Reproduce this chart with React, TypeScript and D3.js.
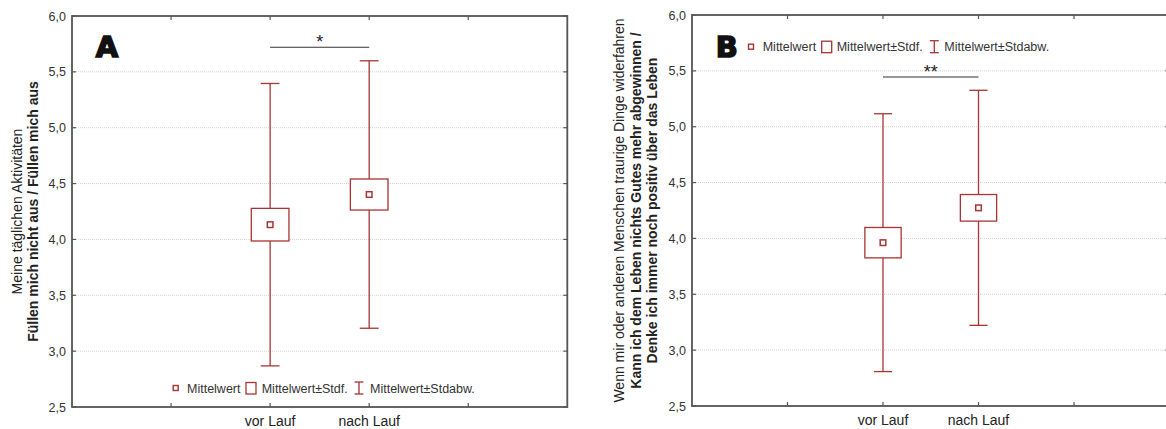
import React from "react";
import * as d3 from "d3";

const categories = ["vor Lauf", "nach Lauf"];
const categoryPos = [2, 3];
const xTickPos = [1, 2, 3, 4];
const yTicks = [2.5, 3.0, 3.5, 4.0, 4.5, 5.0, 5.5, 6.0];

// Panel A
const meanA = [4.132, 4.402];
const stdfA = [0.146, 0.139];
const stdabwA = [1.264, 1.197];
// Panel B
const meanB = [3.962, 4.274];
const stdfB = [0.136, 0.119];
const stdabwB = [1.154, 1.052];

const legendLabels = ["Mittelwert", "Mittelwert±Stdf.", "Mittelwert±Stdabw."];
const labelA = ["Meine täglichen Aktivitäten", "Füllen mich nicht aus / Füllen mich aus"];
const labelB = [
  "Wenn mir oder anderen Menschen traurige Dinge widerfahren",
  "Kann ich dem Leben nichts Gutes mehr abgewinnen /",
  "Denke ich immer noch positiv über das Leben",
];

const RED = "#a83434";
const FRAME = "#555";
const FONT = "'Liberation Sans', Arial, Helvetica, sans-serif";
const fmt = (v: number) => d3.format(".1f")(v).replace(".", ",");

type PanelProps = {
  left: number; right: number; top: number; bottom: number;
  mean: number[]; stdf: number[]; stdabw: number[];
  letter: string; letterX: number;
  yLabel: string[]; yLabelX: number[];
  sig: string; sigY: number;
  legendY: number; legendX: number[];
};

function Legend({ y, xs }: { y: number; xs: number[] }) {
  return (
    <g fontFamily={FONT} fontSize={12.5} fill="#333">
      <rect x={xs[0] - 2.5} y={y - 2.5} width={5} height={5} fill="white" stroke={RED} strokeWidth={1.4} />
      <text x={xs[1]} y={y + 4.5}>{legendLabels[0]}</text>
      <rect x={xs[2]} y={y - 5.5} width={10} height={11.5} fill="white" stroke={RED} strokeWidth={1.3} />
      <text x={xs[3]} y={y + 4.5}>{legendLabels[1]}</text>
      <line x1={xs[4]} x2={xs[4]} y1={y - 6} y2={y + 6} stroke={RED} strokeWidth={1.3} />
      <line x1={xs[4] - 4.5} x2={xs[4] + 4.5} y1={y - 6} y2={y - 6} stroke={RED} strokeWidth={1.3} />
      <line x1={xs[4] - 4.5} x2={xs[4] + 4.5} y1={y + 6} y2={y + 6} stroke={RED} strokeWidth={1.3} />
      <text x={xs[5]} y={y + 4.5}>{legendLabels[2]}</text>
    </g>
  );
}

function Panel(p: PanelProps) {
  const x = d3.scaleLinear().domain([0, 5]).range([p.left, p.right]);
  const y = d3.scaleLinear().domain([2.5, 6.0]).range([p.bottom, p.top]);
  const boxHalf = (x(1) - x(0)) * 0.19;
  const capHalf = (x(1) - x(0)) * 0.095;
  const midY = (p.top + p.bottom) / 2;
  return (
    <g>
      {yTicks.slice(1, -1).map((t) => (
        <line key={"g" + t} x1={p.left} x2={p.right} y1={y(t)} y2={y(t)} stroke="#d2d2d2" strokeWidth={1} strokeDasharray="1,1" />
      ))}
      {yTicks.map((t) => (
        <g key={"yt" + t}>
          <line x1={p.left} x2={p.left + 4} y1={y(t)} y2={y(t)} stroke={FRAME} strokeWidth={1.2} />
          <line x1={p.right} x2={p.right - 4} y1={y(t)} y2={y(t)} stroke={FRAME} strokeWidth={1.2} />
          <text x={p.left - 6} y={y(t) + 4.5} textAnchor="end" fontFamily={FONT} fontSize={12.5} fill="#333">{fmt(t)}</text>
        </g>
      ))}
      {xTickPos.map((t) => (
        <g key={"xt" + t}>
          <line x1={x(t)} x2={x(t)} y1={p.bottom} y2={p.bottom - 4} stroke={FRAME} strokeWidth={1.2} />
          <line x1={x(t)} x2={x(t)} y1={p.top} y2={p.top + 4} stroke={FRAME} strokeWidth={1.2} />
        </g>
      ))}
      {categories.map((c, i) => (
        <text key={c} x={x(categoryPos[i])} y={p.bottom + 19} textAnchor="middle" fontFamily={FONT} fontSize={14} fill="#222">{c}</text>
      ))}
      <rect x={p.left} y={p.top} width={p.right - p.left} height={p.bottom - p.top} fill="none" stroke={FRAME} strokeWidth={1.8} />
      {p.yLabel.map((l, i) => (
        <text key={l} transform={`translate(${p.yLabelX[i]},${midY}) rotate(-90)`} textAnchor="middle" fontFamily={FONT} fontSize={14}
          fontWeight={i === 0 ? "normal" : "bold"} fill="#222">{l}</text>
      ))}
      <text x={p.letterX} y={56.5} textAnchor="middle" fontFamily="'DejaVu Sans', sans-serif" fontWeight={900} fontSize={29}
        fill="#111" stroke="#111" strokeWidth={1.6}>{p.letter}</text>
      {categories.map((c, i) => {
        const cx = x(categoryPos[i]);
        const m = p.mean[i];
        return (
          <g key={"d" + c} stroke={RED} strokeWidth={1.3} fill="none">
            <line x1={cx} x2={cx} y1={y(m - p.stdabw[i])} y2={y(m + p.stdabw[i])} />
            <line x1={cx - capHalf} x2={cx + capHalf} y1={y(m + p.stdabw[i])} y2={y(m + p.stdabw[i])} />
            <line x1={cx - capHalf} x2={cx + capHalf} y1={y(m - p.stdabw[i])} y2={y(m - p.stdabw[i])} />
            <rect x={cx - boxHalf} y={y(m + p.stdf[i])} width={boxHalf * 2} height={y(m - p.stdf[i]) - y(m + p.stdf[i])} fill="white" />
            <rect x={cx - 2.8} y={y(m) - 2.8} width={5.6} height={5.6} fill="white" strokeWidth={1.5} />
          </g>
        );
      })}
      <line x1={x(categoryPos[0])} x2={x(categoryPos[1])} y1={p.sigY} y2={p.sigY} stroke="#333" strokeWidth={1.1} />
      <text x={(x(categoryPos[0]) + x(categoryPos[1])) / 2} y={p.sigY + 1} textAnchor="middle" fontFamily={FONT} fontSize={18} fill="#222">{p.sig}</text>
      <Legend y={p.legendY} xs={p.legendX} />
    </g>
  );
}

export default function App() {
  return (
    <svg width={1166} height={429} style={{ position: "absolute", left: 0, top: 0, background: "white" }}>
      <rect x={0} y={0} width={1166} height={429} fill="white" />
      <Panel left={72} right={567.3} top={16} bottom={407}
        mean={meanA} stdf={stdfA} stdabw={stdabwA}
        letter="A" letterX={107} yLabel={labelA} yLabelX={[22, 38]}
        sig="*" sigY={47.3} legendY={388} legendX={[175.7, 187, 246, 261.7, 359, 370]} />
      <Panel left={692} right={1169.5} top={15} bottom={406}
        mean={meanB} stdf={stdfB} stdabw={stdabwB}
        letter="B" letterX={726.7} yLabel={labelB} yLabelX={[624, 640.5, 657]}
        sig="**" sigY={77} legendY={46.7} legendX={[751, 762.7, 821.7, 836.7, 934.3, 944.3]} />
    </svg>
  );
}
